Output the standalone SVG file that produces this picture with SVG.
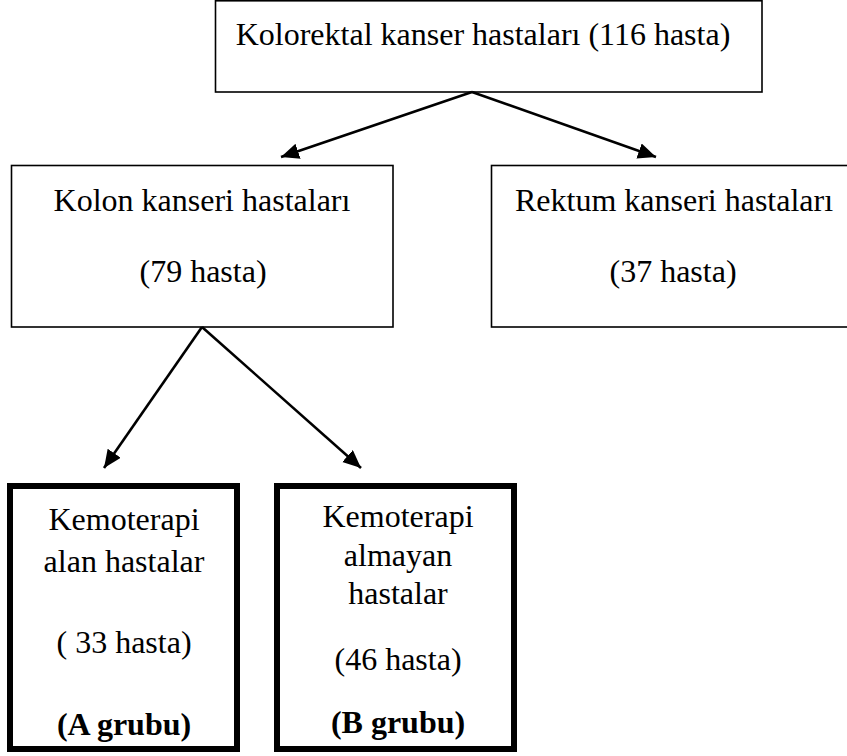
<svg xmlns="http://www.w3.org/2000/svg" width="847" height="756" viewBox="0 0 847 756">
  <style>
    .box { fill: #ffffff; stroke: #000000; stroke-width: 1.6; }
    .thick { fill: #ffffff; stroke: #000000; stroke-width: 6; }
    .lbl { font-family: 'Liberation Serif', 'Times New Roman', Tinos, 'DejaVu Serif', 'Noto Serif', serif; font-size: 32px; fill: #000000; text-anchor: middle; }
    .bold { font-weight: bold; }
    .conn { stroke: #000000; stroke-width: 2.6; fill: none; marker-end: url(#arrow); }
  </style>
  <defs>
    <marker id="arrow" markerUnits="userSpaceOnUse" markerWidth="20" markerHeight="18" refX="18" refY="8" orient="auto">
      <path d="M0,0 L18,8 L0,16 Z" fill="#000000"/>
    </marker>
  </defs>

  <rect width="847" height="756" fill="#ffffff"/>

  <g id="node-colorectal">
    <rect class="box" x="215.5" y="0.8" width="546.5" height="91.2"/>
    <text class="lbl" x="483" y="45" font-family="Liberation Serif, serif">Kolorektal kanser hastaları (116 hasta)</text>
  </g>

  <g id="node-colon">
    <rect class="box" x="11.5" y="165.5" width="381.5" height="161.5"/>
    <text class="lbl" x="202" y="211">Kolon kanseri hastaları</text>
    <text class="lbl" x="203" y="282">(79 hasta)</text>
  </g>

  <g id="node-rectum">
    <rect class="box" x="491.5" y="165.5" width="366" height="161.5"/>
    <text class="lbl" x="674" y="211">Rektum kanseri hastaları</text>
    <text class="lbl" x="673" y="282">(37 hasta)</text>
  </g>

  <g id="node-group-a">
    <rect class="thick" x="10" y="486" width="227" height="263"/>
    <text class="lbl" x="124" y="530">Kemoterapi</text>
    <text class="lbl" x="124" y="572">alan hastalar</text>
    <text class="lbl" x="124" y="653">( 33 hasta)</text>
    <text class="lbl bold" x="124" y="735">(A grubu)</text>
  </g>

  <g id="node-group-b">
    <rect class="thick" x="277" y="486" width="237" height="263"/>
    <text class="lbl" x="398" y="527">Kemoterapi</text>
    <text class="lbl" x="398" y="566">almayan</text>
    <text class="lbl" x="398" y="604">hastalar</text>
    <text class="lbl" x="398" y="670">(46 hasta)</text>
    <text class="lbl bold" x="398" y="733">(B grubu)</text>
  </g>

  <g id="connectors">
    <line class="conn" x1="472" y1="92" x2="281" y2="157"/>
    <line class="conn" x1="472" y1="92" x2="656" y2="157"/>
    <line class="conn" x1="202" y1="327" x2="104" y2="468"/>
    <line class="conn" x1="202" y1="327" x2="361" y2="468"/>
  </g>
</svg>
